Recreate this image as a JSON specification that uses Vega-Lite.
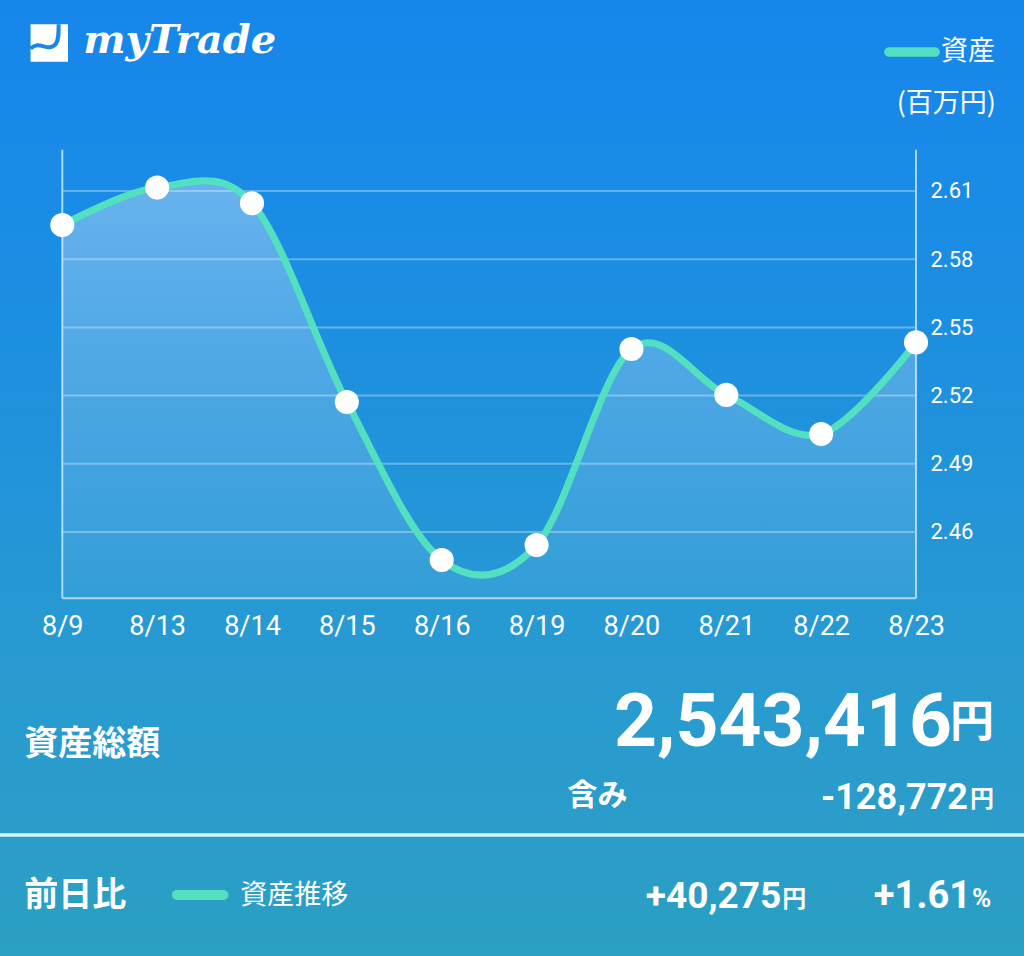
{
  "$schema": "https://vega.github.io/schema/vega-lite/v6.json",
  "width": 1024,
  "height": 956,
  "autosize": {"type": "none"},
  "padding": 0,
  "background": "#1f8fdc",
  "config": {"view": {"stroke": null}},
  "data": {"values": [{}]},
  "datasets": {
    "assets": [
      {"date": "8/9", "value": 2.5950},
      {"date": "8/13", "value": 2.6115},
      {"date": "8/14", "value": 2.6046},
      {"date": "8/15", "value": 2.5172},
      {"date": "8/16", "value": 2.4477},
      {"date": "8/19", "value": 2.4543},
      {"date": "8/20", "value": 2.5405},
      {"date": "8/21", "value": 2.5203},
      {"date": "8/22", "value": 2.5031},
      {"date": "8/23", "value": 2.5434}
    ],
    "ticks": [
      {"tick": 2.46}, {"tick": 2.49}, {"tick": 2.52}, {"tick": 2.55}, {"tick": 2.58}, {"tick": 2.61}
    ]
  },
  "resolve": {"scale": {"color": "independent"}},
  "layer": [
    {
      "mark": {
        "type": "rect",
        "fill": {
          "gradient": "linear", "x1": 0, "y1": 0, "x2": 0, "y2": 1,
          "stops": [
            {"offset": 0, "color": "#1686ec"},
            {"offset": 0.35, "color": "#1d8fe0"},
            {"offset": 0.68, "color": "#289ad2"},
            {"offset": 0.87, "color": "#2a9dc9"},
            {"offset": 1, "color": "#2aa0c2"}
          ]
        }
      },
      "encoding": {
        "y": {"datum": 2.69402, "type": "quantitative", "scale": {"domain": [2.27348, 2.69402], "nice": false, "zero": false}},
        "y2": {"datum": 2.27348}
      }
    },
    {
      "data": {"name": "ticks"},
      "mark": {"type": "rule", "color": "#ffffff", "opacity": 0.32, "strokeWidth": 2},
      "encoding": {
        "x": {"datum": "8/9", "type": "ordinal"},
        "x2": {"datum": "8/23"},
        "y": {"field": "tick", "type": "quantitative"}
      }
    },
    {
      "mark": {"type": "rule", "color": "#a9d9f6", "strokeWidth": 2},
      "encoding": {
        "x": {"datum": "8/9", "type": "ordinal"},
        "y": {"datum": 2.6281, "type": "quantitative"},
        "y2": {"datum": 2.4308}
      }
    },
    {
      "mark": {"type": "rule", "color": "#a9d9f6", "strokeWidth": 2},
      "encoding": {
        "x": {"datum": "8/23", "type": "ordinal"},
        "y": {"datum": 2.6281, "type": "quantitative"},
        "y2": {"datum": 2.4308}
      }
    },
    {
      "mark": {"type": "rule", "color": "#a9d9f6", "strokeWidth": 2},
      "encoding": {
        "x": {"datum": "8/9", "type": "ordinal"},
        "x2": {"datum": "8/23"},
        "y": {"datum": 2.4308, "type": "quantitative"}
      }
    },
    {
      "data": {"name": "assets"},
      "mark": {
        "type": "area",
        "interpolate": "cardinal",
        "fill": {
          "gradient": "linear", "x1": 0, "y1": 0, "x2": 0, "y2": 1,
          "stops": [
            {"offset": 0, "color": "rgba(255,255,255,0.34)"},
            {"offset": 1, "color": "rgba(255,255,255,0.06)"}
          ]
        }
      },
      "encoding": {
        "x": {
          "field": "date", "type": "ordinal",
          "scale": {
            "type": "point",
            "domain": ["8/9", "8/13", "8/14", "8/15", "8/16", "8/19", "8/20", "8/21", "8/22", "8/23"],
            "padding": 0.8975,
            "align": 0.3658
          },
          "axis": {
            "orient": "bottom", "offset": -357.7, "title": null, "zindex": 2,
            "domain": false, "ticks": false, "tickSize": 0, "grid": false,
            "labelFlush": false, "labelAlign": "center", "labelBound": false, "labelOverlap": false,
            "labelPadding": 28, "labelFontSize": 27, "labelColor": "#ffffff",
            "labelFont": "Roboto", "labelAngle": 0
          }
        },
        "y": {
          "field": "value", "type": "quantitative",
          "axis": {
            "orient": "right", "offset": -108, "title": null, "zindex": 2,
            "domain": false, "ticks": false, "tickSize": 0, "grid": false,
            "values": [2.46, 2.49, 2.52, 2.55, 2.58, 2.61], "format": ".2f",
            "labelPadding": 14, "labelFontSize": 22, "labelColor": "#ffffff",
            "labelFont": "Roboto", "labelFlush": false
          }
        },
        "y2": {"datum": 2.4308}
      }
    },
    {
      "data": {"name": "assets"},
      "mark": {"type": "line", "interpolate": "cardinal", "strokeWidth": 7, "strokeCap": "round"},
      "encoding": {
        "x": {"field": "date", "type": "ordinal"},
        "y": {"field": "value", "type": "quantitative"},
        "color": {
          "datum": "資産",
          "scale": {"range": ["#53e0c0"]},
          "legend": {
            "orient": "top-right", "offset": 29, "title": null,
            "symbolType": "M-1,-0.21 L1,-0.21 A0.21,0.21 0 0 1 1,0.21 L-1,0.21 A0.21,0.21 0 0 1 -1,-0.21 Z",
            "symbolSize": 2110, "symbolStrokeWidth": 0,
            "labelFontSize": 27, "labelColor": "#ffffff", "labelFont": "Noto Sans CJK JP",
            "labelOffset": 6,
            "encode": {"symbols": {"update": {"fill": {"value": "#53e0c0"}, "strokeWidth": {"value": 0}, "opacity": {"value": 1}}}}
          }
        }
      }
    },
    {
      "data": {"name": "assets"},
      "mark": {"type": "point", "filled": true, "shape": "circle", "size": 580, "color": "#ffffff", "opacity": 1},
      "encoding": {
        "x": {"field": "date", "type": "ordinal"},
        "y": {"field": "value", "type": "quantitative"}
      }
    },
    {
      "mark": {"type": "point", "shape": "square", "filled": true, "color": "#ffffff", "opacity": 1, "size": 1400, "xOffset": -13},
      "encoding": {"x": {"datum": "8/9", "type": "ordinal"}, "y": {"datum": 2.6751, "type": "quantitative"}}
    },
    {
      "mark": {"type": "point", "shape": "M-1,0.3 C-0.5,-0.2 -0.1,0.55 0.35,0.05 C0.5,-0.15 0.5,-0.5 0.5,-1", "filled": false, "stroke": "#1987ea", "strokeWidth": 4, "opacity": 1, "size": 1400, "xOffset": -13},
      "encoding": {"x": {"datum": "8/9", "type": "ordinal"}, "y": {"datum": 2.6751, "type": "quantitative"}}
    },
    {
      "mark": {"type": "text", "text": "myTrade", "font": "DejaVu Serif", "fontStyle": "italic", "fontWeight": "bold", "fontSize": 40, "color": "#ffffff", "align": "left", "baseline": "alphabetic", "dx": 21},
      "encoding": {"x": {"datum": "8/9", "type": "ordinal"}, "y": {"datum": 2.6707, "type": "quantitative"}}
    },
    {
      "mark": {"type": "text", "text": "(百万円)", "font": "Noto Sans CJK JP", "fontSize": 27, "color": "#ffffff", "align": "right", "baseline": "middle", "dx": 80},
      "encoding": {"x": {"datum": "8/23", "type": "ordinal"}, "y": {"datum": 2.64827, "type": "quantitative"}}
    },
    {
      "mark": {"type": "text", "text": "資産総額", "font": "Noto Sans CJK JP", "fontWeight": "bold", "fontSize": 34, "color": "#ffffff", "align": "left", "baseline": "middle", "dx": -38},
      "encoding": {"x": {"datum": "8/9", "type": "ordinal"}, "y": {"datum": 2.3663, "type": "quantitative"}}
    },
    {
      "mark": {"type": "text", "text": "2,543,416", "font": "Roboto", "fontWeight": "bold", "fontSize": 75, "color": "#ffffff", "align": "right", "baseline": "alphabetic", "dx": 36},
      "encoding": {"x": {"datum": "8/23", "type": "ordinal"}, "y": {"datum": 2.36587, "type": "quantitative"}}
    },
    {
      "mark": {"type": "text", "text": "円", "font": "Noto Sans CJK JP", "fontWeight": "bold", "fontSize": 44, "color": "#ffffff", "align": "left", "baseline": "alphabetic", "dx": 34},
      "encoding": {"x": {"datum": "8/23", "type": "ordinal"}, "y": {"datum": 2.36982, "type": "quantitative"}}
    },
    {
      "mark": {"type": "text", "text": "含み", "font": "Noto Sans CJK JP", "fontWeight": "bold", "fontSize": 30, "color": "#ffffff", "align": "left", "baseline": "middle", "dx": 31},
      "encoding": {"x": {"datum": "8/19", "type": "ordinal"}, "y": {"datum": 2.34387, "type": "quantitative"}}
    },
    {
      "mark": {"type": "text", "text": "-128,772", "font": "Roboto", "fontWeight": "bold", "fontSize": 36, "color": "#ffffff", "align": "right", "baseline": "alphabetic", "dx": 52},
      "encoding": {"x": {"datum": "8/23", "type": "ordinal"}, "y": {"datum": 2.33815, "type": "quantitative"}}
    },
    {
      "mark": {"type": "text", "text": "円", "font": "Noto Sans CJK JP", "fontWeight": "bold", "fontSize": 24, "color": "#ffffff", "align": "left", "baseline": "alphabetic", "dx": 54},
      "encoding": {"x": {"datum": "8/23", "type": "ordinal"}, "y": {"datum": 2.33900, "type": "quantitative"}}
    },
    {
      "mark": {"type": "rule", "color": "#d6f6ff", "strokeWidth": 3.5},
      "encoding": {"y": {"datum": 2.32671, "type": "quantitative"}}
    },
    {
      "mark": {"type": "text", "text": "前日比", "font": "Noto Sans CJK JP", "fontWeight": "bold", "fontSize": 34, "color": "#ffffff", "align": "left", "baseline": "middle", "dx": -38},
      "encoding": {"x": {"datum": "8/9", "type": "ordinal"}, "y": {"datum": 2.29988, "type": "quantitative"}}
    },
    {
      "mark": {"type": "point", "shape": "M-1,-0.21 L1,-0.21 A0.21,0.21 0 0 1 1,0.21 L-1,0.21 A0.21,0.21 0 0 1 -1,-0.21 Z", "filled": true, "color": "#53e0c0", "opacity": 1, "size": 2190, "xOffset": 43},
      "encoding": {"x": {"datum": "8/13", "type": "ordinal"}, "y": {"datum": 2.30032, "type": "quantitative"}}
    },
    {
      "mark": {"type": "text", "text": "資産推移", "font": "Noto Sans CJK JP", "fontSize": 27, "color": "#ffffff", "align": "left", "baseline": "middle", "dx": 83},
      "encoding": {"x": {"datum": "8/13", "type": "ordinal"}, "y": {"datum": 2.29988, "type": "quantitative"}}
    },
    {
      "mark": {"type": "text", "text": "+40,275", "font": "Roboto", "fontWeight": "bold", "fontSize": 37, "color": "#ffffff", "align": "right", "baseline": "alphabetic", "dx": 55},
      "encoding": {"x": {"datum": "8/21", "type": "ordinal"}, "y": {"datum": 2.2946, "type": "quantitative"}}
    },
    {
      "mark": {"type": "text", "text": "円", "font": "Noto Sans CJK JP", "fontWeight": "bold", "fontSize": 24, "color": "#ffffff", "align": "left", "baseline": "alphabetic", "dx": 56},
      "encoding": {"x": {"datum": "8/21", "type": "ordinal"}, "y": {"datum": 2.2950, "type": "quantitative"}}
    },
    {
      "mark": {"type": "text", "text": "+1.61", "font": "Roboto", "fontWeight": "bold", "fontSize": 38, "color": "#ffffff", "align": "right", "baseline": "alphabetic", "dx": 55},
      "encoding": {"x": {"datum": "8/23", "type": "ordinal"}, "y": {"datum": 2.2946, "type": "quantitative"}}
    },
    {
      "mark": {"type": "text", "text": "%", "font": "Roboto", "fontWeight": "bold", "fontSize": 26, "color": "#ffffff", "align": "left", "baseline": "alphabetic", "dx": 56},
      "encoding": {"x": {"datum": "8/23", "type": "ordinal"}, "y": {"datum": 2.2950, "type": "quantitative"}}
    }
  ]
}
